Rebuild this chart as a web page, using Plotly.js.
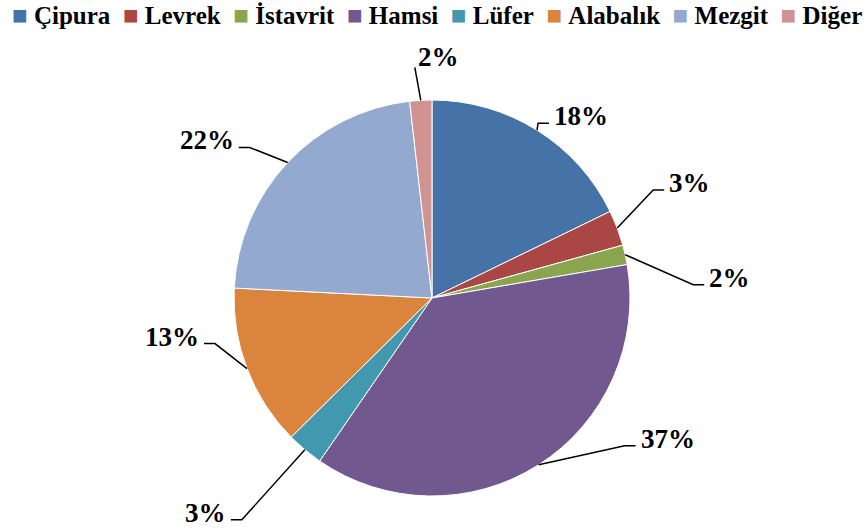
<!DOCTYPE html>
<html>
<head>
<meta charset="utf-8">
<script src="https://cdn.plot.ly/plotly-3.0.1.min.js"></script>
<style>html,body{margin:0;padding:0;background:#fff;}#chart{width:868px;height:530px;}</style>
</head>
<body>
<div id="chart"></div>
<script>
// ---- data ----
const categories = ['Çipura', 'Levrek', 'İstavrit', 'Hamsi', 'Lüfer', 'Alabalık', 'Mezgit', 'Diğer'];
const values = [17.8, 2.9, 1.6, 37.3, 3.0, 13.2, 22.4, 1.8];
const colors = ['#4572A7', '#AA4643', '#89A54E', '#71588F', '#4198AF', '#DB843D', '#93A9CF', '#D19392'];

// ---- layout / style ----
const W = 868, H = 530;
const CX = 432, CY = 298, R = 198;           // pie centre and radius (px)
// leader elbow offset from slice edge (px) and side of label (+1 right, -1 left, 0 above)
const elbowOffsets = [[1, -7], [36, -38], [68, 30], [86, -19], [-63, 70], [-32, -25], [-38, -15], [-6, -33]];
const sides = [1, 1, 1, 1, -1, -1, -1, 0];
const FONT = 'Liberation Serif, Times New Roman, serif';

const px2x = p => p / W;
const px2y = p => 1 - p / H;

const total = values.reduce((a, b) => a + b, 0);
const shapes = [];
const annotations = [];
let cum = 0;
values.forEach((v, i) => {
  const theta = (cum + v / 2) / total * 2 * Math.PI;
  cum += v;
  const ex = CX + R * Math.sin(theta);
  const ey = CY - R * Math.cos(theta);
  const bx = ex + elbowOffsets[i][0];
  const by = ey + elbowOffsets[i][1];
  const side = sides[i];
  const hx = bx + side * 11;
  shapes.push({
    type: 'path', xref: 'paper', yref: 'paper',
    path: `M ${px2x(ex)},${px2y(ey)} L ${px2x(bx)},${px2y(by)} L ${px2x(hx)},${px2y(by)}`,
    line: {color: '#000', width: 1.5}
  });
  const pct = Math.round(v / total * 100) + '%';
  let ax, ay, xa;
  if (side === 0) { ax = bx + 1; ay = by - 10; xa = 'left'; }
  else if (side > 0) { ax = hx + 3; ay = by - 7; xa = 'left'; }
  else { ax = hx - 3; ay = by - 7; xa = 'right'; }
  annotations.push({
    xref: 'paper', yref: 'paper', x: px2x(ax), y: px2y(ay),
    xanchor: xa, yanchor: 'middle', showarrow: false, text: pct,
    font: {family: FONT, size: 27, color: '#000', weight: 'bold'}
  });
});

// custom single-line legend built from categories/colors
const legendText = categories.map((c, i) =>
  `<span style="color:${colors[i]};font-size:26px">■</span>\u00a0${c}`).join('\u00a0\u00a0');
annotations.push({
  xref: 'paper', yref: 'paper', x: px2x(436.5), y: px2y(16),
  xanchor: 'center', yanchor: 'middle', showarrow: false, text: legendText,
  font: {family: FONT, size: 25, color: '#000', weight: 'bold'}
});

const trace = {
  type: 'pie',
  labels: categories,
  values: values,
  sort: false,
  direction: 'clockwise',
  rotation: 0,
  marker: {colors: colors, line: {color: '#ffffff', width: 1}},
  textinfo: 'none',
  hoverinfo: 'none',
  showlegend: false,
  domain: {x: [(CX - R) / W, (CX + R) / W], y: [(H - CY - R) / H, (H - CY + R) / H]}
};

const layout = {
  width: W, height: H,
  margin: {l: 0, r: 0, t: 0, b: 0},
  paper_bgcolor: '#fff',
  showlegend: false,
  shapes: shapes,
  annotations: annotations
};

Plotly.newPlot('chart', [trace], layout, {displayModeBar: false, staticPlot: true});
</script>
</body>
</html>
